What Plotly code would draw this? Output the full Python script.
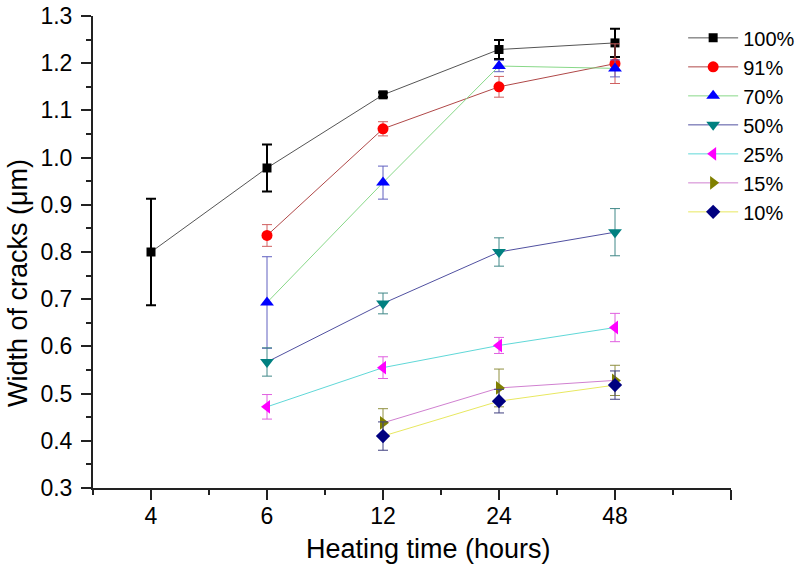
import plotly.graph_objects as go

hours = ["4", "6", "12", "24", "48"]
series_names = ["100%", "91%", "70%", "50%", "25%", "15%", "10%"]

# x categories for each series
x_100 = ["4", "6", "12", "24", "48"]
y_100 = [0.80, 0.978, 1.133, 1.229, 1.243]
e_100 = [0.113, 0.05, 0.005, 0.02, 0.03]

x_91 = ["6", "12", "24", "48"]
y_91 = [0.835, 1.061, 1.150, 1.199]
e_91 = [0.023, 0.015, 0.022, 0.042]

x_70 = ["6", "12", "24", "48"]
y_70 = [0.693, 0.947, 1.194, 1.189]
e_70 = [0.097, 0.035, 0.012, 0.018]

x_50 = ["6", "12", "24", "48"]
y_50 = [0.567, 0.691, 0.800, 0.842]
e_50 = [0.030, 0.022, 0.030, 0.050]

x_25 = ["6", "12", "24", "48"]
y_25 = [0.472, 0.555, 0.602, 0.640]
e_25 = [0.026, 0.023, 0.017, 0.030]

x_15 = ["12", "24", "48"]
y_15 = [0.438, 0.512, 0.528]
e_15 = [0.030, 0.040, 0.032]

x_10 = ["12", "24", "48"]
y_10 = [0.410, 0.484, 0.518]
e_10 = [0.030, 0.025, 0.030]

y_ticks = [0.3, 0.4, 0.5, 0.6, 0.7, 0.8, 0.9, 1.0, 1.1, 1.2, 1.3]

x_title = "Heating time (hours)"
y_title = "Width of cracks (μm)"

styles = [
    # line color, marker color, symbol, size, error color, error thickness
    ("#555555", "#000000", "square", 9, "#000000", 2),
    ("#b04848", "#ff0000", "circle", 11, "#d06060", 1),
    ("#88d888", "#0000ff", "triangle-up", 12, "#6060c0", 1),
    ("#5050a0", "#008080", "triangle-down", 12, "#408888", 1),
    ("#60d8d8", "#ff00ff", "triangle-left", 12, "#e060e0", 1),
    ("#d080d0", "#808000", "triangle-right", 12, "#909040", 1),
    ("#e8e860", "#000080", "diamond", 11, "#404080", 1),
]

data = [
    (x_100, y_100, e_100),
    (x_91, y_91, e_91),
    (x_70, y_70, e_70),
    (x_50, y_50, e_50),
    (x_25, y_25, e_25),
    (x_15, y_15, e_15),
    (x_10, y_10, e_10),
]

fig = go.Figure()
for name, (xs, ys, es), (lc, mc, sym, sz, ec, et) in zip(series_names, data, styles):
    pos = [hours.index(h) + 1 for h in xs]
    fig.add_trace(go.Scatter(
        x=pos, y=ys, name=name, mode="lines+markers",
        line=dict(color=lc, width=1),
        marker=dict(color=mc, symbol=sym, size=sz, line=dict(width=0)),
        error_y=dict(type="data", array=es, visible=True, color=ec,
                     thickness=et, width=5),
    ))

font_family = "Liberation Sans, Arial, sans-serif"

fig.update_layout(
    width=800, height=573,
    margin=dict(l=93, r=69, t=16, b=85, autoexpand=False),
    paper_bgcolor="white", plot_bgcolor="white",
    font=dict(family=font_family, color="black"),
    showlegend=True,
    legend=dict(x=0.925, y=0.995, xanchor="left", yanchor="top",
                bgcolor="rgba(0,0,0,0)", font=dict(size=20, family=font_family),
                itemwidth=50, tracegroupgap=0),
    xaxis=dict(
        range=[0.5, 6.0], tickmode="array", automargin=False,
        tickvals=[1, 2, 3, 4, 5, 6], ticktext=hours + [""],
        showline=True, linecolor="#222222", linewidth=2,
        ticks="outside", ticklen=10, tickwidth=2, tickcolor="#222222",
        showgrid=False, zeroline=False, ticklabelstandoff=-4,
        ticklabeloverflow="allow",
        tickfont=dict(size=23),
        minor=dict(tickmode="array", tickvals=[0.5, 1.5, 2.5, 3.5, 4.5, 5.5],
                   ticks="outside", ticklen=5, tickwidth=2, tickcolor="#222222",
                   showgrid=False),
    ),
    yaxis=dict(
        range=[0.3, 1.3], tickmode="array", tickvals=y_ticks, automargin=False,
        ticktext=[f"{v:.1f}" for v in y_ticks],
        showline=True, linecolor="#222222", linewidth=2,
        ticks="outside", ticklen=10, tickwidth=2, tickcolor="#222222",
        showgrid=False, zeroline=False, ticklabelstandoff=4,
        ticklabeloverflow="allow",
        tickfont=dict(size=23),
        minor=dict(tickmode="array", tickvals=[0.35 + 0.1 * i for i in range(10)],
                   ticks="outside", ticklen=5, tickwidth=2, tickcolor="#222222",
                   showgrid=False),
    ),
    annotations=[
        dict(text=x_title, xref="paper", yref="paper", x=0.5266, y=-0.129,
             xanchor="center", yanchor="middle", showarrow=False,
             font=dict(size=27)),
        dict(text=y_title, xref="paper", yref="paper", x=-0.1176, y=0.4343,
             xanchor="center", yanchor="middle", showarrow=False,
             textangle=-90, font=dict(size=27)),
    ],
)

fig.write_html("out.html", config={"displayModeBar": False},
               post_script="document.body.style.margin='0';document.body.style.padding='0';")
